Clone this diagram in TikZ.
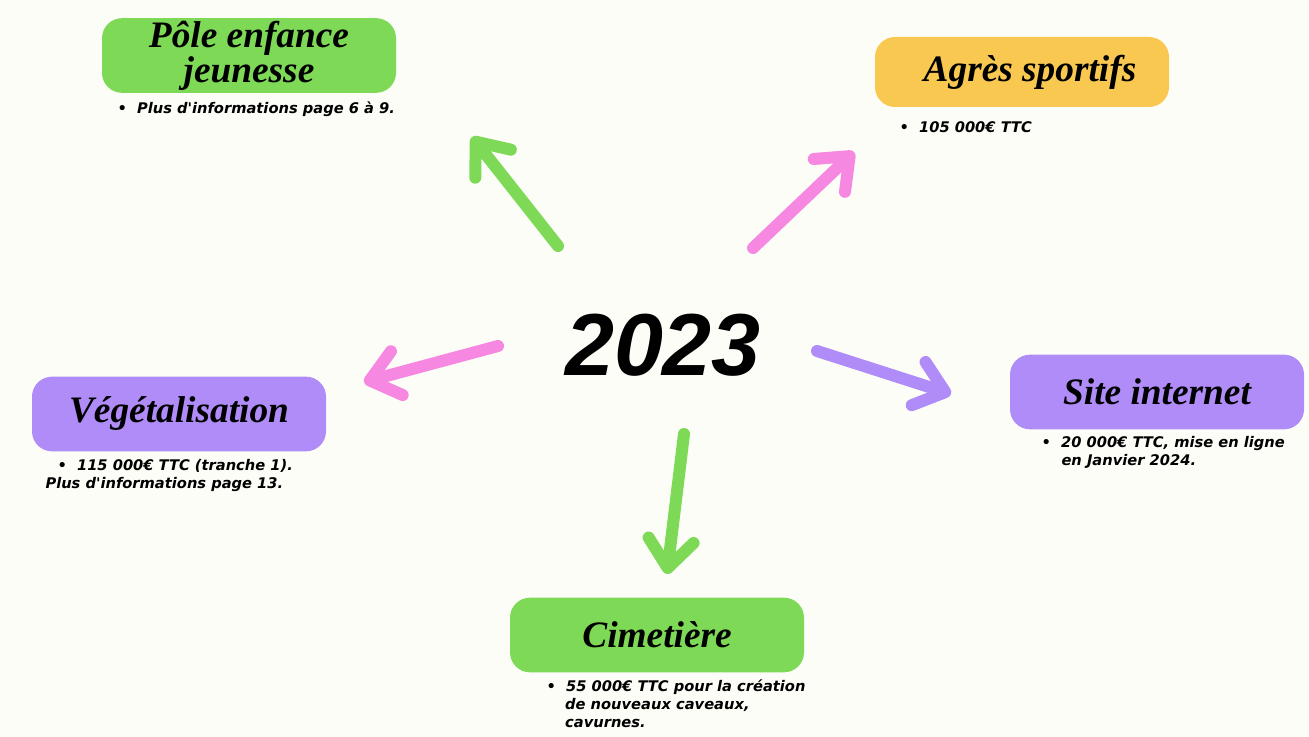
\documentclass[tikz,border=0pt]{standalone}
\usepackage{fontspec}
\setmainfont{DejaVu Sans}[Ligatures=TeXOff]
\newfontfamily\titlefont{Liberation Serif}
\newfontfamily\yearfont{Liberation Sans}
\usetikzlibrary{arrows.meta}

\definecolor{bgcream}{HTML}{FDFDF8}
\definecolor{boxgreen}{HTML}{7ED957}
\definecolor{boxorange}{HTML}{F9C851}
\definecolor{boxpurple}{HTML}{B08CF8}
\definecolor{arrowpink}{HTML}{F788E2}

\tikzset{every picture/.style={line width=0.75pt}}

\begin{document}
\begin{tikzpicture}[x=0.75pt,y=0.75pt,yscale=-1,
  titlebox/.style={rounded corners=15pt, minimum width=220.5pt, minimum height=56pt,
    align=center, inner sep=0pt, font=\titlefont\bfseries\itshape\fontsize{28}{24}\selectfont},
  note/.style={anchor=north west, inner sep=0pt, align=left,
    font=\bfseries\itshape\fontsize{11}{13.5}\selectfont},
  brush/.style={line width=9pt, line cap=round,
    -{Straight Barb[round,length=21pt,width=34pt]}}]
%set diagram size: 1309 x 737
\useasboundingbox[fill=bgcream] (0,0) rectangle (1309,737);

% Centre
\node [inner sep=0pt, font=\yearfont\bfseries\itshape\fontsize{66}{66}\selectfont] (year) at (663,345) {2023};

%Shape: Rounded Rect
\node [titlebox, fill=boxgreen] (pole) at (249,55.5) {Pôle enfance\\jeunesse};
\node [titlebox, fill=boxorange, minimum height=52.5pt] (agres) at (1022,72) {\hspace{12pt}Agrès sportifs};
\node [titlebox, fill=boxpurple] (veget) at (179,414) {Végétalisation};
\node [titlebox, fill=boxpurple] (site) at (1157,392) {Site internet};
\node [titlebox, fill=boxgreen] (cimet) at (657,635) {Cimetière};

% Text Node
\node [note] (pole-note) at (117,101) {•\ \ Plus d'informations page 6 à 9.};
% Text Node
\node [note] (agres-note) at (899,121) {•\ \ 105 000€ TTC};
% Text Node
\node [note] (veget-note) at (45,459) {\hspace*{9pt}•\ \ 115 000€ TTC (tranche 1).\\Plus d'informations page 13.};
% Text Node
\node [note] (site-note) at (1041,436) {•\ \ 20 000€ TTC, mise en ligne\\\hspace*{15pt}en Janvier 2024.};
% Text Node
\node [note] (cimet-note) at (546,679) {•\ \ 55 000€ TTC pour la création\\\hspace*{14pt}de nouveaux caveaux,\\\hspace*{14pt}cavurnes.};

%Arrows
\coordinate (pole-tail) at (558,246);
\coordinate (pole-head) at (472,137);
\coordinate (agres-tail) at (753,248);
\coordinate (agres-head) at (854,152);
\coordinate (veget-tail) at (498,346);
\coordinate (veget-head) at (364,382);
\coordinate (site-tail) at (817,351);
\coordinate (site-head) at (951,394);
\coordinate (cimet-tail) at (684,434);
\coordinate (cimet-head) at (667,574);

\draw [brush, boxgreen] (pole-tail) -- (pole-head);
\draw [brush, arrowpink] (agres-tail) -- (agres-head);
\draw [brush, arrowpink] (veget-tail) -- (veget-head);
\draw [brush, boxpurple] (site-tail) -- (site-head);
\draw [brush, boxgreen] (cimet-tail) -- (cimet-head);

\end{tikzpicture}
\end{document}
